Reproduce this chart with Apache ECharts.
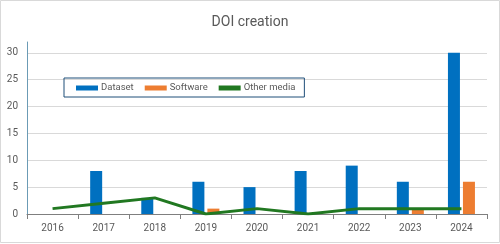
<!DOCTYPE html>
<html><head><meta charset="utf-8">
<script src="https://cdn.jsdelivr.net/npm/echarts@6/dist/echarts.min.js"></script>
<style>html,body{margin:0;padding:0;background:#fff}#c{width:500px;height:244px}</style>
</head><body><div id="c"></div>
<script>
const categories = ['2016','2017','2018','2019','2020','2021','2022','2023','2024'];
const dataset = [0, 8, 3, 6, 5, 8, 9, 6, 30];
const software = [0, 0, 0, 1, 0, 0, 0, 1, 6];
const otherMedia = [1, 2, 3, 0, 1, 0, 1, 1, 1];
const yTicks = [0, 5, 10, 15, 20, 25, 30];

const chart = echarts.init(document.getElementById('c'), null, {renderer:'canvas'});
const txt = '#595959';
chart.setOption({
  animation: false,
  textStyle: {fontFamily: 'Roboto, "Liberation Sans", sans-serif'},
  title: {text: 'DOI creation', left: 'center', top: 10,
    textStyle: {fontSize: 14, fontWeight: 'normal', color: txt, fontFamily: 'Roboto, sans-serif'}},
  graphic: [{type:'rect', shape:{x:0.5,y:0.5,width:499,height:242}, style:{fill:null, stroke:'#d9d9d9', lineWidth:1}, silent:true}],
  legend: {
    left: 64, top: 78,
    padding: [5, 9, 4, 12],
    borderColor: '#1F4E79', borderWidth: 1, borderRadius: 0,
    itemWidth: 22, itemHeight: 5, itemGap: 11,
    textStyle: {fontSize: 9.5, color: txt, padding: [0,0,0,-2]},
    data: [
      {name:'Dataset', icon:'rect'},
      {name:'Software', icon:'rect'},
      {name:'Other media', icon:'rect', itemStyle:{color:'#217821'}}
    ]
  },
  grid: {left: 27, right: 13, top: 42, bottom: 30, containLabel: false},
  xAxis: {
    type: 'category', data: categories, boundaryGap: true,
    axisLine: {lineStyle: {color: '#7f7f7f', width: 1}},
    axisTick: {show: true, length: 5, lineStyle: {color: '#7f7f7f'}},
    axisLabel: {color: txt, fontSize: 10, margin: 9}
  },
  yAxis: {
    type: 'value', min: 0, max: 32, interval: 5,
    axisLine: {show: true, lineStyle: {color: '#6B9BB5', width: 1}},
    axisTick: {show: false},
    axisLabel: {color: txt, fontSize: 10, margin: 9, showMaxLabel: false,
      formatter: v => (yTicks.includes(v) ? String(v) : '')},
    splitLine: {show: true, showMaxLine: false, lineStyle: {color: '#d9d9d9', width: 1}}
  },
  series: [
    {name:'Dataset', type:'bar', data: dataset, barWidth: 12, barGap: '25%', itemStyle:{color:'#0070C0'}},
    {name:'Software', type:'bar', data: software, barWidth: 12, barGap: '25%', itemStyle:{color:'#ED7D31'}},
    {name:'Other media', type:'line', data: otherMedia, showSymbol: false, symbol:'none',
      lineStyle:{color:'#217821', width: 3}, itemStyle:{color:'#217821'}, z: 5}
  ]
});
</script></body></html>
